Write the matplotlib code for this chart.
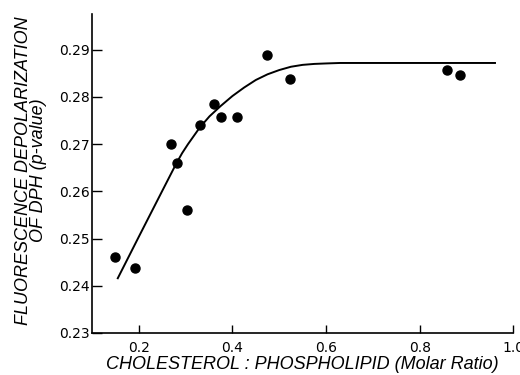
import numpy as np
import matplotlib
matplotlib.use("Agg")
import matplotlib.pyplot as plt

plt.rcParams['font.family'] = ['DejaVu Sans']

# measured points (cholesterol:phospholipid ratio, p-value)
ratio = [0.150, 0.191, 0.268, 0.281, 0.302, 0.330, 0.360, 0.375, 0.410, 0.473, 0.522, 0.859, 0.887]
pvalue = [0.2461, 0.2438, 0.2700, 0.2660, 0.2561, 0.2741, 0.2786, 0.2758, 0.2757, 0.2889, 0.2837, 0.2857, 0.2847]

# fitted curve
curve_x = [0.155, 0.200, 0.250, 0.280, 0.2925, 0.305, 0.330, 0.351, 0.375, 0.400, 0.425,
           0.450, 0.475, 0.500, 0.525, 0.550, 0.575, 0.600, 0.630, 0.700, 0.961]
curve_y = [0.2416, 0.2504, 0.2601, 0.2659, 0.2681, 0.2700, 0.2735, 0.2759, 0.2781, 0.2802, 0.2820,
           0.2836, 0.2848, 0.2857, 0.2864, 0.2868, 0.2870, 0.2871, 0.2872, 0.2872, 0.2872]

xticks = [0.2, 0.4, 0.6, 0.8, 1.0]
yticks = [0.23, 0.24, 0.25, 0.26, 0.27, 0.28, 0.29]

fig = plt.figure(figsize=(5.2, 3.75), dpi=100)
ax = fig.add_axes([0.177, 0.112, 0.81, 0.851])

ax.plot(curve_x, curve_y, color='black', lw=1.4, solid_joinstyle='round')
ax.plot(ratio, pvalue, 'o', color='black', markersize=6.5)

ax.set_xlim(0.1, 1.0)
ax.set_ylim(0.23, 0.2976)
ax.set_xticks(xticks)
ax.set_xticklabels(['%.1f' % t for t in xticks])
ax.set_yticks(yticks)
ax.set_yticklabels(['%.2f' % t for t in yticks])

for s in ['top', 'right']:
    ax.spines[s].set_visible(False)
for s in ['left', 'bottom']:
    ax.spines[s].set_linewidth(1.2)

ax.tick_params(axis='x', direction='in', length=6, width=1.0, pad=5.5, labelsize=10)
ax.tick_params(axis='y', direction='in', length=7, width=1.0, pad=1.5, labelsize=10)

lab_font = ['Liberation Sans', 'DejaVu Sans']
ax.set_xlabel('CHOLESTEROL : PHOSPHOLIPID (Molar Ratio)', style='italic', fontsize=13,
              family=lab_font)
ax.xaxis.set_label_coords(0.5, -0.072)
ax.set_ylabel('FLUORESCENCE DEPOLARIZATION\nOF DPH (p-value)', style='italic', fontsize=13,
              family=lab_font, linespacing=0.85)
ax.yaxis.set_label_coords(-0.107, 0.51)

fig.savefig('out.png', dpi=100)
